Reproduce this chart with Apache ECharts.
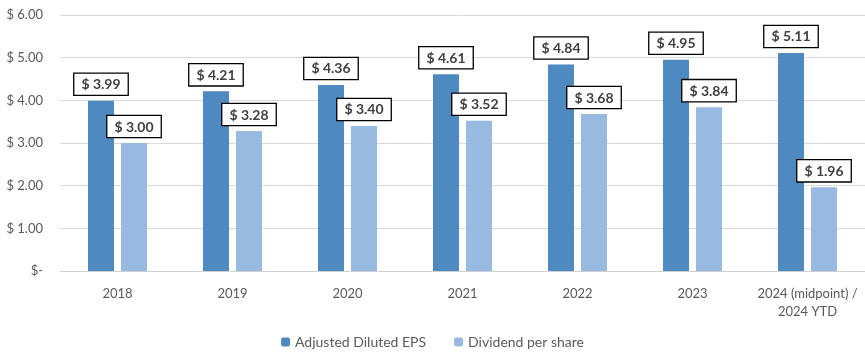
<!DOCTYPE html>
<html><head><meta charset="utf-8">
<script src="https://cdn.jsdelivr.net/npm/echarts@6/dist/echarts.min.js"></script>
<style>html,body{margin:0;padding:0;background:#fff}#c{width:865px;height:356px}</style>
</head><body><div id="c"></div>
<script>
const categories = ['2018','2019','2020','2021','2022','2023','2024 (midpoint) /\n2024 YTD'];
const epsValues = [3.99, 4.21, 4.36, 4.61, 4.84, 4.95, 5.11];
const dividendValues = [3.00, 3.28, 3.40, 3.52, 3.68, 3.84, 1.96];
const yTicks = [0, 1, 2, 3, 4, 5, 6];
const seriesNames = ['Adjusted Diluted EPS', 'Dividend per share'];

const FONT = 'Lato, "Open Sans", sans-serif';
const labelStyle = {
  show: true, position: 'top', distance: 6,
  formatter: p => '$ ' + p.value.toFixed(2),
  fontFamily: FONT, fontWeight: 'bold', fontSize: 14, color: '#404040',
  backgroundColor: '#fff', borderColor: '#000', borderWidth: 1.3,
  padding: [4, 7, 3, 7]
};
const chart = echarts.init(document.getElementById('c'));
chart.setOption({
  animation: false,
  textStyle: { fontFamily: FONT },
  grid: { left: 60, right: 0, top: 15, bottom: 85 },
  legend: {
    bottom: 2, itemWidth: 9, itemHeight: 9, itemGap: 28,
    textStyle: { fontFamily: FONT, fontSize: 14, color: '#595959' },
    data: seriesNames
  },
  xAxis: {
    type: 'category', data: categories,
    axisLine: { lineStyle: { color: '#d0d0d0' } },
    axisTick: { show: false },
    axisLabel: { color: '#595959', fontSize: 13, fontFamily: FONT, margin: 14, lineHeight: 18, interval: 0 }
  },
  yAxis: {
    type: 'value', min: yTicks[0], max: yTicks[yTicks.length - 1], interval: 1,
    axisLine: { show: false }, axisTick: { show: false },
    splitLine: { lineStyle: { color: '#d9d9d9' } },
    axisLabel: { color: '#595959', fontSize: 13, fontFamily: FONT, margin: 17,
      formatter: v => v === 0 ? '$-' : '$ ' + v.toFixed(2) }
  },
  series: [
    { name: seriesNames[0], type: 'bar', data: epsValues, barWidth: 26, barGap: '27%',
      itemStyle: { color: '#4e89bf' }, label: labelStyle },
    { name: seriesNames[1], type: 'bar', data: dividendValues, barWidth: 26,
      itemStyle: { color: '#98bae0' }, label: labelStyle }
  ]
});
</script></body></html>
